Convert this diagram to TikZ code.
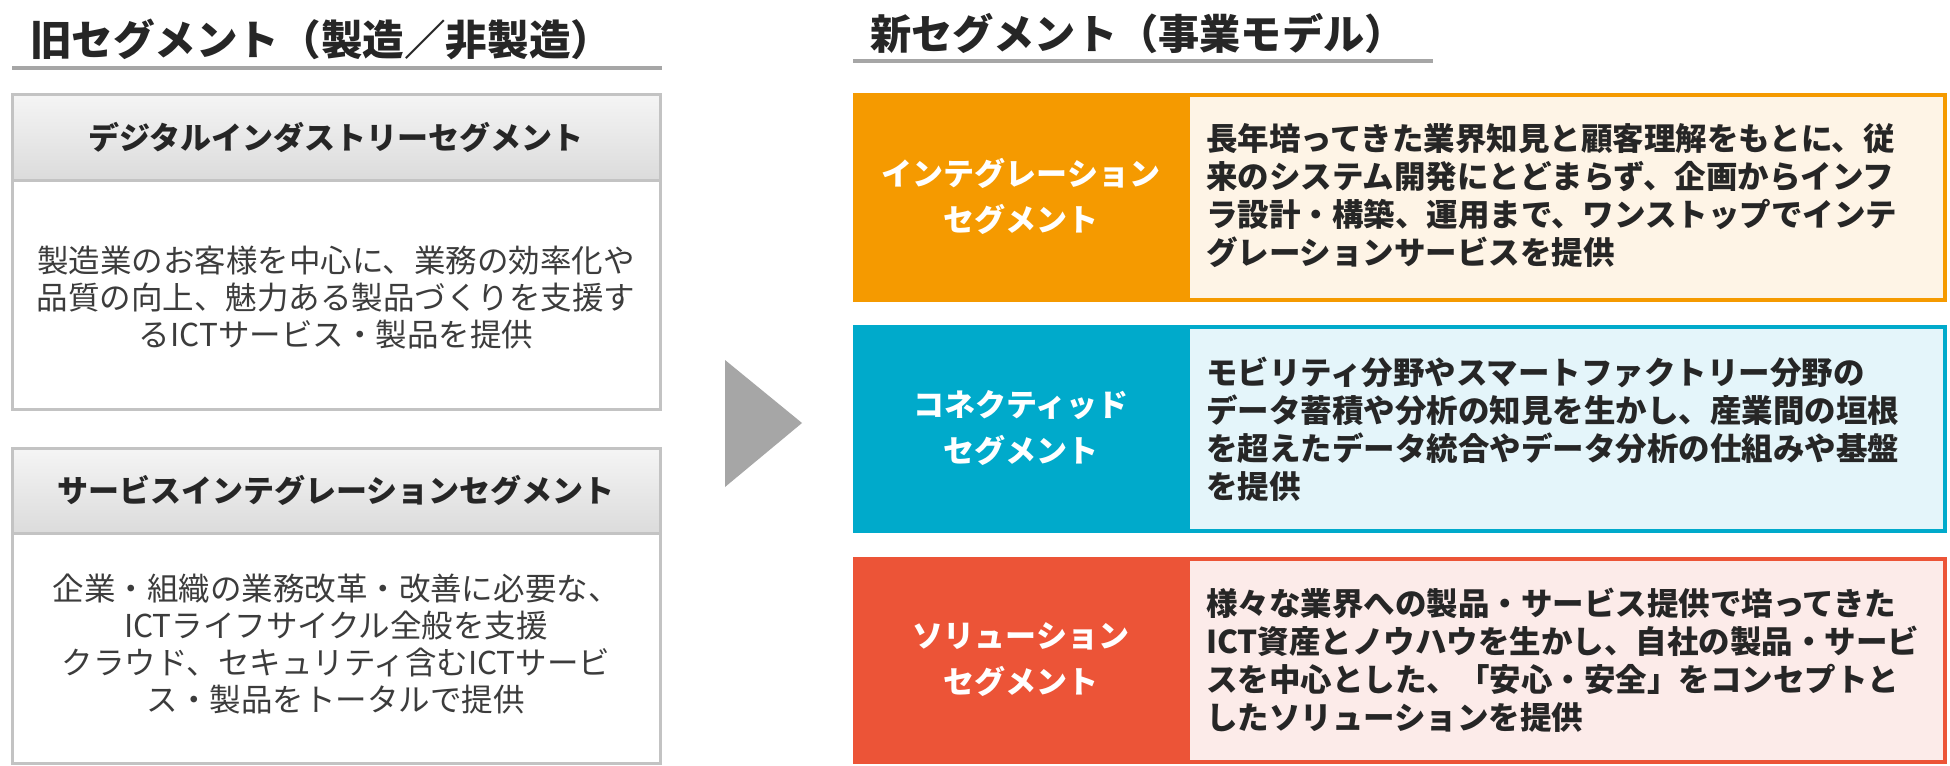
\documentclass[tikz,border=0pt]{standalone}
\usepackage{fontspec}
\setmainfont{Noto Sans CJK JP}
\definecolor{txt}{HTML}{262626}
\definecolor{txtb}{HTML}{3C3C3C}
\definecolor{gline}{HTML}{A6A6A6}
\definecolor{gbord}{HTML}{C3C3C3}
\definecolor{ora}{HTML}{F59A00}
\definecolor{oral}{HTML}{FEF4E6}
\definecolor{cya}{HTML}{00AACB}
\definecolor{cyal}{HTML}{E4F5FA}
\definecolor{red}{HTML}{EC5437}
\definecolor{redl}{HTML}{FCEBE9}
\begin{document}
\begin{tikzpicture}[x=0.5pt,y=-0.5pt,
  every node/.style={inner sep=0pt,outer sep=0pt},
  ttl/.style={font=\bfseries\fontsize{20.8}{24}\selectfont,text=txt,anchor=west},
  hdrtxt/.style={font=\bfseries\fontsize{15.5}{18}\selectfont,text=txt},
  bodytxt/.style={font=\fontsize{15.75}{18.5}\selectfont,text=txtb,align=center},
  lbl/.style={font=\bfseries\fontsize{15.5}{23}\selectfont,text=white,align=center},
  desc/.style={font=\bfseries\fontsize{15.75}{19}\selectfont,text=txt,align=left,anchor=west},
  hdrbox/.style={draw=gbord,line width=1.5pt,top color=gray!8,bottom color=gray!28},
  bodybox/.style={draw=gbord,line width=1.5pt,fill=white},
  uline/.style={draw=gline,line width=2pt},
]
\useasboundingbox[fill=white] (0,0) rectangle (1950,766);

% ---- left side ----
\node[ttl] (oldttl) at (30,39) {旧セグメント（製造／非製造）};
\draw[uline] (12,68) -- (662,68);

\draw[bodybox] (12,180) rectangle (660,409);
\draw[hdrbox] (12,94) rectangle (660,180);
\node[hdrtxt] (h1) at (336,137) {デジタルインダストリーセグメント};
\node[bodytxt] (b1) at (336,298) {製造業のお客様を中心に、業務の効率化や\\品質の向上、魅力ある製品づくりを支援す\\るICTサービス・製品を提供};

\draw[bodybox] (12,533) rectangle (660,763);
\draw[hdrbox] (12,448) rectangle (660,533);
\node[hdrtxt] (h2) at (336,490) {サービスインテグレーションセグメント};
\node[bodytxt] (b2) at (336,644) {企業・組織の業務改革・改善に必要な、\\ICTライフサイクル全般を支援\\クラウド、セキュリティ含むICTサービ\\ス・製品をトータルで提供};

% ---- arrow ----
\fill[gline] (725,360) -- (802,423) -- (725,487) -- cycle;

% ---- right side ----
\node[ttl,font=\bfseries\fontsize{20.6}{24}\selectfont] (newttl) at (870,34) {新セグメント（事業モデル）};
\draw[uline] (853,61) -- (1433,61);

% orange row
\filldraw[fill=oral,draw=ora,line width=2pt] (1188,95) rectangle (1945,300);
\fill[ora] (853,93) rectangle (1190,302);
\node[lbl] (l1) at (1021,196) {インテグレーション\\セグメント};
\node[desc] (d1) at (1206,196) {長年培ってきた業界知見と顧客理解をもとに、従\\来のシステム開発にとどまらず、企画からインフ\\ラ設計・構築、運用まで、ワンストップでインテ\\グレーションサービスを提供};

% cyan row
\filldraw[fill=cyal,draw=cya,line width=2pt] (1188,327) rectangle (1945,531);
\fill[cya] (853,325) rectangle (1190,533);
\node[lbl] (l2) at (1021,428) {コネクティッド\\セグメント};
\node[desc] (d2) at (1206,429) {モビリティ分野やスマートファクトリー分野の\\データ蓄積や分析の知見を生かし、産業間の垣根\\を超えたデータ統合やデータ分析の仕組みや基盤\\を提供};

% red row
\filldraw[fill=redl,draw=red,line width=2pt] (1188,559) rectangle (1945,762);
\fill[red] (853,557) rectangle (1190,764);
\node[lbl] (l3) at (1021,660) {ソリューション\\セグメント};
\node[desc] (d3) at (1206,660) {様々な業界への製品・サービス提供で培ってきた\\ICT資産とノウハウを生かし、自社の製品・サービ\\スを中心とした、「安心・安全」をコンセプトと\\したソリューションを提供};
\end{tikzpicture}
\end{document}
